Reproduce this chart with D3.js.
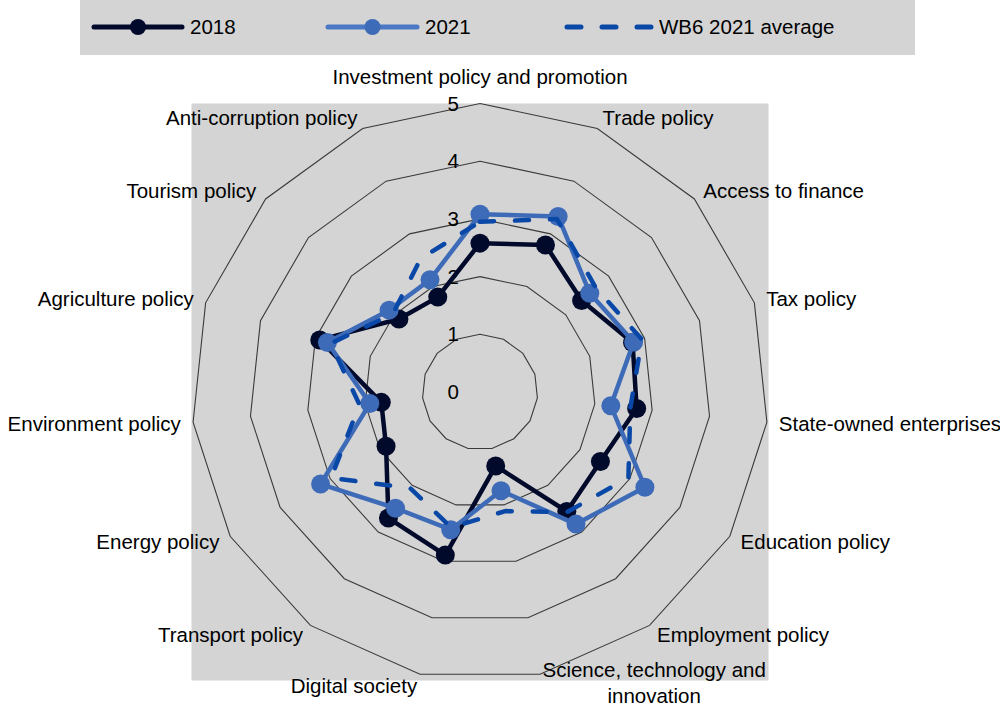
<!DOCTYPE html>
<html>
<head>
<meta charset="utf-8">
<script src="https://cdn.jsdelivr.net/npm/d3@7/dist/d3.min.js"></script>
<style>
  html, body { margin: 0; padding: 0; background: #ffffff; }
  svg { display: block; font-family: "Liberation Sans", Arial, sans-serif; }
</style>
</head>
<body>
<svg id="chart" width="1000" height="709"></svg>
<script>
const categories = [
  "Investment policy and promotion",
  "Trade policy",
  "Access to finance",
  "Tax policy",
  "State-owned enterprises",
  "Education policy",
  "Employment policy",
  "Science, technology and\ninnovation",
  "Digital society",
  "Transport policy",
  "Energy policy",
  "Environment policy",
  "Agriculture policy",
  "Tourism policy",
  "Anti-corruption policy"
];
const values2018 = [2.58, 2.79, 2.37, 2.78, 2.73, 2.41, 2.56, 1.31, 2.89, 2.70, 1.88, 1.72, 2.92, 1.89, 1.80];
const values2021 = [3.08, 3.33, 2.56, 2.80, 2.28, 3.30, 2.83, 1.75, 2.44, 2.49, 3.19, 1.92, 2.78, 2.12, 2.13];
const valuesWB6  = [2.95, 3.28, 2.70, 2.95, 2.62, 2.97, 2.57, 2.11, 2.40, 2.06, 2.98, 2.10, 2.72, 2.03, 2.53];
const ringTicks = [0, 1, 2, 3, 4, 5];
const seriesNames = ["2018", "2021", "WB6 2021 average"];

const svg = d3.select("#chart");
const cx = 480, cy = 392, R = 288.5;
const fontSize = 20.5;

const rScale = d3.scaleLinear().domain([0, 5]).range([0, R]);
const n = categories.length;
const angle = d3.scaleLinear().domain([0, n]).range([0, 2 * Math.PI]);

const colors = { s2018: "#020a2c", s2021: "#3e6bb8", wb6: "#0a48a8" };

// Legend box
svg.append("rect").attr("x", 80).attr("y", 0).attr("width", 835).attr("height", 55).attr("fill", "#d4d4d4");

// Plot background
svg.append("rect").attr("x", cx - R).attr("y", cy - R).attr("width", 2 * R).attr("height", 2 * R).attr("fill", "#d4d4d4");

const g = svg.append("g").attr("transform", `translate(${cx},${cy})`);

// Grid rings
const ringLine = d3.lineRadial().curve(d3.curveLinearClosed);
ringTicks.filter(t => t > 0).forEach(t => {
  g.append("path")
    .attr("d", ringLine(categories.map((c, i) => [angle(i), rScale(t)])))
    .attr("fill", "none").attr("stroke", "#3a3a3a").attr("stroke-width", 1.1);
});

// Ring labels
g.selectAll("text.tick").data(ringTicks).enter().append("text")
  .attr("class", "tick")
  .attr("x", -21).attr("y", d => -rScale(d)).attr("dy", "0.35em")
  .attr("text-anchor", "end").attr("font-size", fontSize).attr("fill", "#000")
  .text(d => d);

// Series
const seriesLine = d3.lineRadial()
  .angle((d, i) => angle(i))
  .radius(d => rScale(d))
  .curve(d3.curveLinearClosed);

function drawSeries(vals, color, dashed, markers) {
  const grp = g.append("g");
  grp.append("path").attr("d", seriesLine(vals))
    .attr("fill", "none").attr("stroke", color).attr("stroke-width", 4.5)
    .attr("stroke-linejoin", "round")
    .attr("stroke-linecap", dashed ? "round" : "butt")
    .attr("stroke-dasharray", dashed ? "14,21" : null);
  if (markers) {
    grp.selectAll("circle").data(vals).enter().append("circle")
      .attr("cx", (d, i) => rScale(d) * Math.sin(angle(i)))
      .attr("cy", (d, i) => -rScale(d) * Math.cos(angle(i)))
      .attr("r", 9.5).attr("fill", color);
  }
}
drawSeries(values2018, colors.s2018, false, true);
drawSeries(values2021, colors.s2021, false, true);
drawSeries(valuesWB6, colors.wb6, true, false);

// Category labels
const labelOffset = 12;
const lineH = 26;
categories.forEach((label, i) => {
  const a = angle(i);
  const s = Math.sin(a), c = Math.cos(a);
  const px = (R + labelOffset) * s;
  const py = -(R + labelOffset) * c;
  const lines = label.split("\n");
  const t = g.append("text").attr("font-size", fontSize).attr("fill", "#000").attr("text-anchor", "middle");
  lines.forEach((ln, k) => {
    t.append("tspan").attr("x", 0).attr("y", (k - (lines.length - 1) / 2) * lineH).attr("dy", "0.35em").text(ln);
  });
  const w = t.node().getBBox().width;
  let tx = px, ty = py;
  if (Math.abs(s) < 0.01) {
    ty = c > 0 ? py - 15 : py + 15;
  } else if (s > 0) {
    tx = px + w / 2;
  } else {
    tx = px - w / 2;
  }
  if (lines.length > 1) ty -= 3;
  t.attr("transform", `translate(${tx},${ty})`);
});

// Legend
const legend = svg.append("g");
const legendItems = [
  { name: seriesNames[0], color: colors.s2018, line: colors.s2018, x0: 94, x1: 182, dashed: false },
  { name: seriesNames[1], color: colors.s2021, line: "#4a78c4", x0: 328, x1: 417, dashed: false },
  { name: seriesNames[2], color: colors.wb6, line: colors.wb6, x0: 567, x1: 651, dashed: true }
];
legendItems.forEach(it => {
  const ly = 27;
  legend.append("line").attr("x1", it.x0).attr("x2", it.x1).attr("y1", ly).attr("y2", ly)
    .attr("stroke", it.line).attr("stroke-width", 5)
    .attr("stroke-linecap", "round")
    .attr("stroke-dasharray", it.dashed ? "14,21" : null);
  if (!it.dashed) {
    legend.append("circle").attr("cx", (it.x0 + it.x1) / 2).attr("cy", ly).attr("r", 8).attr("fill", it.color);
  }
  legend.append("text").attr("x", it.x1 + 8).attr("y", ly).attr("dy", "0.35em")
    .attr("font-size", fontSize).attr("fill", "#000").text(it.name);
});
</script>
</body>
</html>
